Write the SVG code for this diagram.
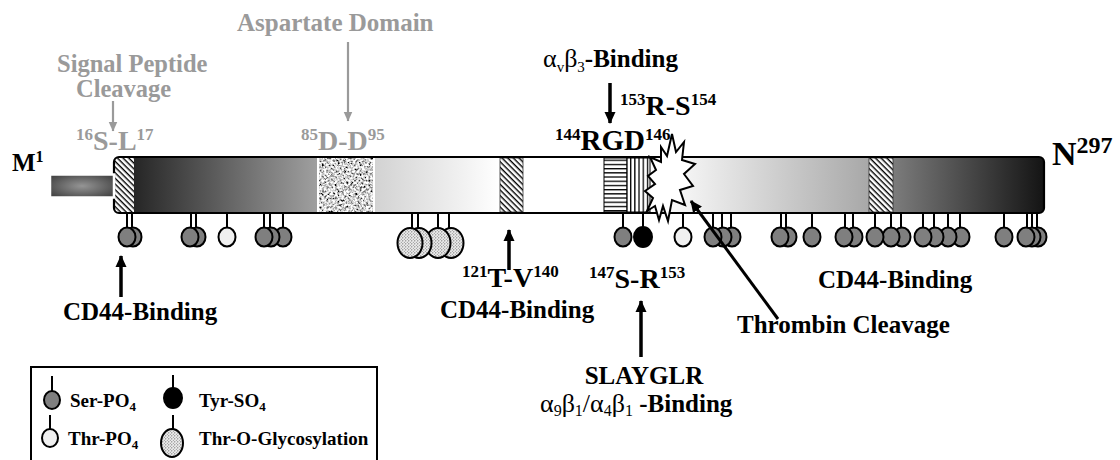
<svg xmlns="http://www.w3.org/2000/svg" width="1120" height="460" viewBox="0 0 1120 460">
  <style>
    text { font-family: "Liberation Serif", "Times New Roman", serif; font-weight: bold; fill: #000; }
    .gray { fill: #9a9a9a; }
    .lbl { font-size: 25px; }
    .res { font-size: 28px; }
    .sup { font-size: 17px; }
    .greek { font-weight: normal; }
    .leg { font-size: 19px; }
    .stem { stroke: #000; stroke-width: 2; }
    .ser { fill: #7f7f7f; stroke: #000; stroke-width: 2; }
    .thr { fill: #f0f0f0; stroke: #000; stroke-width: 2; }
    .tyr { fill: #000; stroke: #000; stroke-width: 2; }
    .gly { fill: url(#dots); stroke: #000; stroke-width: 2; }
    .arrow { stroke: #000; stroke-width: 3.5; fill: none; marker-end: url(#headBlack); }
    .arrowGray { stroke: #9a9a9a; stroke-width: 2.2; fill: none; marker-end: url(#headGray); }
  </style>
  <defs>
    <!-- shading along the protein backbone -->
    <linearGradient id="barShade" gradientUnits="userSpaceOnUse" x1="114" y1="0" x2="1044" y2="0">
      <stop offset="0" stop-color="#262626"/>
      <stop offset="0.0215" stop-color="#262626"/>
      <stop offset="0.2194" stop-color="#a0a0a0"/>
      <stop offset="0.2796" stop-color="#d2d2d2"/>
      <stop offset="0.3828" stop-color="#f4f4f4"/>
      <stop offset="0.4140" stop-color="#ffffff"/>
      <stop offset="0.5763" stop-color="#ffffff"/>
      <stop offset="0.6194" stop-color="#f2f2f2"/>
      <stop offset="0.8118" stop-color="#a8a8a8"/>
      <stop offset="0.8376" stop-color="#7c7c7c"/>
      <stop offset="1" stop-color="#141414"/>
    </linearGradient>
    <radialGradient id="sigShade" cx="0.5" cy="0.5" r="0.6">
      <stop offset="0" stop-color="#959595"/>
      <stop offset="1" stop-color="#464646"/>
    </radialGradient>
    <pattern id="hatch" patternUnits="userSpaceOnUse" width="4" height="4" patternTransform="rotate(45)">
      <rect width="4" height="4" fill="#fff"/>
      <rect width="4" height="1.4" fill="#000"/>
    </pattern>
    <pattern id="hstripes" patternUnits="userSpaceOnUse" width="6" height="4.2">
      <rect width="6" height="4.2" fill="#fff"/>
      <rect width="6" height="1.3" fill="#000"/>
    </pattern>
    <pattern id="vstripes" patternUnits="userSpaceOnUse" width="4.2" height="6">
      <rect width="4.2" height="6" fill="#fff"/>
      <rect width="1.3" height="6" fill="#000"/>
    </pattern>
    <pattern id="dots" patternUnits="userSpaceOnUse" width="3" height="3">
      <rect width="3" height="3" fill="#ececec"/>
      <circle cx="0.8" cy="0.8" r="0.6" fill="#555"/>
      <circle cx="2.3" cy="2.2" r="0.5" fill="#777"/>
    </pattern>
    <filter id="speckle" x="0" y="0" width="1" height="1">
      <feTurbulence type="fractalNoise" baseFrequency="0.45" numOctaves="2" seed="7" result="noise"/>
      <feColorMatrix in="noise" type="matrix" values="2.6 0 0 0 -0.66  2.6 0 0 0 -0.66  2.6 0 0 0 -0.66  0 0 0 0 1"/>
    </filter>
    <marker id="headBlack" markerUnits="userSpaceOnUse" viewBox="0 0 12 12" refX="11" refY="6" markerWidth="12" markerHeight="12" orient="auto">
      <path d="M0,0.5 L12,6 L0,11.5 Z" fill="#000"/>
    </marker>
    <marker id="headGray" markerUnits="userSpaceOnUse" viewBox="0 0 10 10" refX="9.5" refY="5" markerWidth="10" markerHeight="10" orient="auto">
      <path d="M0,0.5 L10,5 L0,9.5 Z" fill="#9a9a9a"/>
    </marker>
  </defs>

  <rect width="1120" height="460" fill="#fff"/>

  <!-- protein backbone -->
  <g id="backbone">
    <rect x="114" y="157" width="930" height="56" rx="5" fill="url(#barShade)"/>
    <rect x="115" y="158" width="19" height="54" fill="url(#hatch)"/>
    <rect x="318" y="157" width="56" height="56" fill="#aaa" filter="url(#speckle)"/>
    <rect x="318" y="157" width="56" height="56" fill="none" stroke="#fff" stroke-width="2"/>
    <rect x="500" y="158" width="23" height="54" fill="url(#hatch)" stroke="#333" stroke-width="0.8"/>
    <rect x="869" y="158" width="24" height="54" fill="url(#hatch)" stroke="#333" stroke-width="0.8"/>
    <rect x="604" y="158" width="23" height="54" fill="url(#hstripes)" stroke="#000" stroke-width="1"/>
    <rect x="627" y="158" width="23" height="54" fill="url(#vstripes)" stroke="#000" stroke-width="1"/>
    <rect x="114" y="157" width="930" height="56" rx="5" fill="none" stroke="#000" stroke-width="2.2"/>
  </g>

  <g id="signal-peptide">
    <rect x="50" y="174.5" width="64" height="23" fill="url(#sigShade)" stroke="#fff" stroke-width="2.5"/>
  </g>

  <g id="thrombin-site">
    <polygon points="672,134 676,152 684,142 682,160 695,164 684,174 693,186 680,190 685,205 672,200 668,221 663,206 659,220 655,206 647,211 653,198 645,191 655,184 648,176 656,170 650,157 661,162 661,147 667,156" fill="#fff" stroke="#000" stroke-width="2" stroke-linejoin="miter"/>
  </g>

  <!-- modification sites: stems -->
  <g id="stems">
    <line class="stem" x1="127" y1="214" x2="127" y2="228"/>
    <line class="stem" x1="132" y1="214" x2="132" y2="228"/>
    <line class="stem" x1="191" y1="214" x2="191" y2="228"/>
    <line class="stem" x1="196" y1="214" x2="196" y2="228"/>
    <line class="stem" x1="227" y1="214" x2="227" y2="228"/>
    <line class="stem" x1="264" y1="214" x2="264" y2="228"/>
    <line class="stem" x1="270" y1="214" x2="270" y2="228"/>
    <line class="stem" x1="283" y1="214" x2="283" y2="228"/>
    <line class="stem" x1="412" y1="214" x2="412" y2="229"/>
    <line class="stem" x1="418" y1="214" x2="418" y2="229"/>
    <line class="stem" x1="438" y1="214" x2="438" y2="229"/>
    <line class="stem" x1="449" y1="214" x2="449" y2="229"/>
    <line class="stem" x1="623" y1="214" x2="623" y2="228"/>
    <line class="stem" x1="643" y1="214" x2="643" y2="228"/>
    <line class="stem" x1="683" y1="214" x2="683" y2="228"/>
    <line class="stem" x1="713" y1="214" x2="713" y2="228"/>
    <line class="stem" x1="722" y1="214" x2="722" y2="228"/>
    <line class="stem" x1="731" y1="214" x2="731" y2="228"/>
    <line class="stem" x1="781" y1="214" x2="781" y2="228"/>
    <line class="stem" x1="786" y1="214" x2="786" y2="228"/>
    <line class="stem" x1="812" y1="214" x2="812" y2="228"/>
    <line class="stem" x1="845" y1="214" x2="845" y2="228"/>
    <line class="stem" x1="853" y1="214" x2="853" y2="228"/>
    <line class="stem" x1="875" y1="214" x2="875" y2="228"/>
    <line class="stem" x1="891" y1="214" x2="891" y2="228"/>
    <line class="stem" x1="901" y1="214" x2="901" y2="228"/>
    <line class="stem" x1="923" y1="214" x2="923" y2="228"/>
    <line class="stem" x1="934" y1="214" x2="934" y2="228"/>
    <line class="stem" x1="948" y1="214" x2="948" y2="228"/>
    <line class="stem" x1="960" y1="214" x2="960" y2="228"/>
    <line class="stem" x1="1004" y1="214" x2="1004" y2="228"/>
    <line class="stem" x1="1027" y1="214" x2="1027" y2="228"/>
    <line class="stem" x1="1032" y1="214" x2="1032" y2="228"/>
    <line class="stem" x1="1037" y1="214" x2="1037" y2="228"/>
  </g>

  <!-- modification sites: heads, right to left so left ones overlap -->
  <g id="sites">
    <ellipse class="ser" cx="1038" cy="237" rx="8.5" ry="9.5"/>
    <ellipse class="ser" cx="1032" cy="237" rx="8.5" ry="9.5"/>
    <ellipse class="ser" cx="1026" cy="237" rx="8.5" ry="9.5"/>
    <ellipse class="ser" cx="1004" cy="237" rx="8.5" ry="9.5"/>
    <ellipse class="ser" cx="961" cy="237" rx="8.5" ry="9.5"/>
    <ellipse class="ser" cx="948" cy="237" rx="8.5" ry="9.5"/>
    <ellipse class="ser" cx="935" cy="237" rx="8.5" ry="9.5"/>
    <ellipse class="ser" cx="923" cy="237" rx="8.5" ry="9.5"/>
    <ellipse class="ser" cx="902" cy="237" rx="8.5" ry="9.5"/>
    <ellipse class="ser" cx="891" cy="237" rx="8.5" ry="9.5"/>
    <ellipse class="ser" cx="875" cy="237" rx="8.5" ry="9.5"/>
    <ellipse class="ser" cx="854" cy="237" rx="8.5" ry="9.5"/>
    <ellipse class="ser" cx="844" cy="237" rx="8.5" ry="9.5"/>
    <ellipse class="ser" cx="812" cy="237" rx="8.5" ry="9.5"/>
    <ellipse class="ser" cx="788" cy="237" rx="8.5" ry="9.5"/>
    <ellipse class="ser" cx="780" cy="237" rx="8.5" ry="9.5"/>
    <ellipse class="ser" cx="732" cy="237" rx="8.5" ry="9.5"/>
    <ellipse class="ser" cx="723" cy="237" rx="8.5" ry="9.5"/>
    <ellipse class="ser" cx="713" cy="237" rx="8.5" ry="9.5"/>
    <ellipse class="thr" cx="683" cy="237" rx="8.5" ry="9.5"/>
    <ellipse class="tyr" cx="643" cy="237" rx="9" ry="10"/>
    <ellipse class="ser" cx="623" cy="237" rx="8.5" ry="9.5"/>
    <ellipse class="gly" cx="451" cy="243" rx="12.5" ry="15"/>
    <ellipse class="gly" cx="438" cy="243" rx="12.5" ry="15"/>
    <ellipse class="gly" cx="419" cy="243" rx="12.5" ry="15"/>
    <ellipse class="gly" cx="410" cy="243" rx="12.5" ry="15"/>
    <ellipse class="ser" cx="283" cy="237" rx="8.5" ry="9.5"/>
    <ellipse class="ser" cx="271" cy="237" rx="8.5" ry="9.5"/>
    <ellipse class="ser" cx="264" cy="237" rx="8.5" ry="9.5"/>
    <ellipse class="thr" cx="227" cy="237" rx="8.5" ry="9.5"/>
    <ellipse class="ser" cx="197" cy="237" rx="8.5" ry="9.5"/>
    <ellipse class="ser" cx="190" cy="237" rx="8.5" ry="9.5"/>
    <ellipse class="ser" cx="133" cy="237" rx="8.5" ry="9.5"/>
    <ellipse class="ser" cx="127" cy="237" rx="8.5" ry="9.5"/>
  </g>

  <!-- connectors -->
  <g id="connectors">
    <line class="arrowGray" x1="113" y1="101" x2="113" y2="131"/>
    <line class="arrowGray" x1="348" y1="42" x2="348" y2="121"/>
    <line class="arrow" x1="610" y1="83" x2="610" y2="123"/>
    <line class="arrow" x1="121" y1="297" x2="121" y2="256"/>
    <line class="arrow" x1="509" y1="270" x2="509" y2="230"/>
    <line class="arrow" x1="641" y1="357" x2="641" y2="301"/>
    <line class="arrow" x1="778" y1="319" x2="691" y2="201" style="stroke-width:3"/>
  </g>

  <!-- terminal labels -->
  <g id="termini">
    <text x="12" y="171" style="font-size:25px">M<tspan dy="-9" style="font-size:16px">1</tspan></text>
    <text x="1052" y="165" style="font-size:34px">N<tspan dy="-12" style="font-size:24px">297</tspan></text>
  </g>

  <g id="label-signal">
    <text class="lbl gray" x="57" y="72" style="font-size:24.5px">Signal Peptide</text>
    <text class="lbl gray" x="76" y="97" style="font-size:24.5px">Cleavage</text>
    <text class="res gray" x="76" y="150"><tspan class="sup" dy="-10">16</tspan><tspan dy="10">S-L</tspan><tspan class="sup" dy="-10">17</tspan></text>
  </g>

  <g id="label-aspartate">
    <text class="lbl gray" x="237" y="31">Aspartate Domain</text>
    <text class="res gray" x="301" y="150"><tspan class="sup" dy="-10">85</tspan><tspan dy="10">D-D</tspan><tspan class="sup" dy="-10">95</tspan></text>
  </g>

  <g id="label-avb3">
    <text class="lbl" x="543" y="67"><tspan class="greek" style="font-size:26px">α</tspan><tspan class="greek" dy="5" style="font-size:15px">v</tspan><tspan class="greek" dy="-5" style="font-size:26px">β</tspan><tspan class="greek" dy="5" style="font-size:15px">3</tspan><tspan dy="-5">-Binding</tspan></text>
    <text class="res" x="620" y="115"><tspan class="sup" dy="-10">153</tspan><tspan dy="10">R-S</tspan><tspan class="sup" dy="-10">154</tspan></text>
    <text class="res" x="555" y="150" style="font-size:29px"><tspan class="sup" dy="-10">144</tspan><tspan dy="10">RGD</tspan><tspan class="sup" dy="-10">146</tspan></text>
  </g>

  <g id="label-cd44-left">
    <text class="lbl" x="63" y="320">CD44-Binding</text>
  </g>

  <g id="label-cd44-mid">
    <text class="res" x="462" y="287"><tspan class="sup" dy="-10">121</tspan><tspan dy="10">T-V</tspan><tspan class="sup" dy="-10">140</tspan></text>
    <text class="lbl" x="440" y="318">CD44-Binding</text>
  </g>

  <g id="label-a9b1">
    <text class="res" x="589" y="288"><tspan class="sup" dy="-10">147</tspan><tspan dy="10">S-R</tspan><tspan class="sup" dy="-10">153</tspan></text>
    <text class="lbl" x="644" y="384" text-anchor="middle">SLAYGLR</text>
    <text class="lbl" x="540" y="412"><tspan class="greek" style="font-size:26px">α</tspan><tspan class="greek" dy="4" style="font-size:16px">9</tspan><tspan class="greek" dy="-4" style="font-size:26px">β</tspan><tspan class="greek" dy="4" style="font-size:16px">1</tspan><tspan class="greek" dy="-4" style="font-size:26px">/α</tspan><tspan class="greek" dy="4" style="font-size:16px">4</tspan><tspan class="greek" dy="-4" style="font-size:26px">β</tspan><tspan class="greek" dy="4" style="font-size:16px">1</tspan><tspan dy="-4"> -Binding</tspan></text>
  </g>

  <g id="label-thrombin">
    <text class="lbl" x="737" y="333">Thrombin Cleavage</text>
  </g>

  <g id="label-cd44-right">
    <text class="lbl" x="818" y="288">CD44-Binding</text>
  </g>

  <!-- key -->
  <g id="legend">
    <rect x="31" y="367" width="346" height="110" fill="#fff" stroke="#000" stroke-width="2"/>
    <line class="stem" x1="52" y1="376" x2="52" y2="391"/>
    <ellipse class="ser" cx="52" cy="400" rx="8" ry="9"/>
    <text class="leg" x="70" y="407">Ser-PO<tspan dy="4" style="font-size:13px">4</tspan></text>
    <line class="stem" x1="173" y1="375" x2="173" y2="389"/>
    <ellipse class="tyr" cx="173" cy="398" rx="9" ry="10"/>
    <text class="leg" x="199" y="407">Tyr-SO<tspan dy="4" style="font-size:13px">4</tspan></text>
    <line class="stem" x1="50" y1="415" x2="50" y2="429"/>
    <ellipse class="thr" cx="50" cy="438" rx="8" ry="9"/>
    <text class="leg" x="68" y="445">Thr-PO<tspan dy="4" style="font-size:13px">4</tspan></text>
    <line class="stem" x1="173" y1="415" x2="173" y2="429"/>
    <ellipse class="gly" cx="172" cy="443" rx="11" ry="14"/>
    <text class="leg" x="199" y="445">Thr-O-Glycosylation</text>
  </g>
</svg>
